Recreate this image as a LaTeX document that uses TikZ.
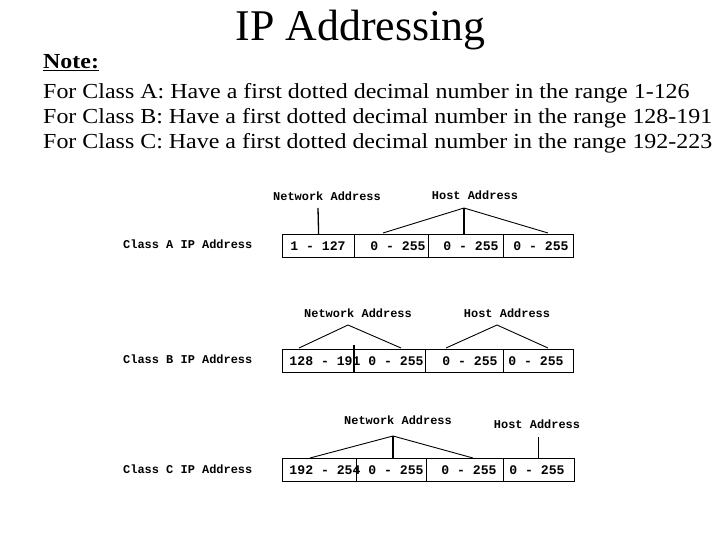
\documentclass[tikz,border=0pt]{standalone}
\usepackage{fontspec}
\setmainfont{Liberation Serif}
\newfontfamily\pixfont{Liberation Mono}
\newcommand{\stretchtxt}[1]{\scalebox{1.118}[1]{#1}}
\begin{document}
\begin{tikzpicture}[x=1bp,y=-1bp,
  lbl/.style={font=\pixfont\bfseries\fontsize{12}{12}\selectfont, inner sep=0pt},
  num/.style={font=\pixfont\bfseries\fontsize{13.2}{13.2}\selectfont, inner sep=0pt},
  cell/.style={draw, line width=1.2bp, inner sep=0pt, anchor=north west, minimum height=23bp},
  conn/.style={line width=0.9bp},
  divider/.style={line width=1.6bp},
  note/.style={font=\fontsize{21.5}{21.5}\selectfont, anchor=base west, inner sep=0pt}]
\useasboundingbox (0,0) rectangle (720,540);
\fill[white] (0,0) rectangle (720,540);

% header
\node[font=\fontsize{44}{44}\selectfont, anchor=base, inner sep=0pt] (title) at (360.5,41) {IP Addressing};
\node[note, font=\bfseries\fontsize{21.5}{21.5}\selectfont] (note) at (43,69) {\stretchtxt{\underline{Note:}}};
\node[note] (lA) at (43,99) {\stretchtxt{For Class A: Have a first dotted decimal number in the range 1-126}};
\node[note] (lB) at (43,124) {\stretchtxt{For Class B: Have a first dotted decimal number in the range 128-191}};
\node[note] (lC) at (43,149) {\stretchtxt{For Class C: Have a first dotted decimal number in the range 192-223}};

% ---------- Class A ----------
\node[lbl, anchor=west] (rowA) at (123,244) {Class A IP Address};
\node[num] (tA1) at (318,246) {1 - 127};
\node[num] (tA2) at (398,246) {0 - 255};
\node[num] (tA3) at (471,246) {0 - 255};
\node[num] (tA4) at (541,246) {0 - 255};
\node[cell, minimum width=72bp] (a1) at (282,234) {};
\node[cell, minimum width=74bp] (a2) at (354,234) {};
\node[cell, minimum width=75bp] (a3) at (428,234) {};
\node[cell, minimum width=70bp] (a4) at (503,234) {};
\node[lbl] (netA) at (327,196) {Network Address};
\node[lbl] (hostA) at (475,195) {Host Address};
\coordinate (netAtop) at (318,208);
\coordinate (hA) at (464,208);
\coordinate (hAl) at (383,233);
\coordinate (hAr) at (548,233);
\coordinate (hAm) at (464,234);
\draw[conn, line width=1.3bp] (netAtop) -- (a1.north);
\draw[conn] (hAl) -- (hA) -- (hAr);
\draw[conn, line width=1.3bp] (hA) -- (hAm);

% ---------- Class B ----------
\node[lbl, anchor=west] (rowB) at (123,359) {Class B IP Address};
\node[num] (tB1) at (325,361) {128 - 191};
\node[num] (tB2) at (396,361) {0 - 255};
\node[num] (tB3) at (470,361) {0 - 255};
\node[num] (tB4) at (536,361) {0 - 255};
\node[cell, minimum width=72bp] (b1) at (282,349) {};
\node[cell, minimum width=71bp] (b2) at (354,349) {};
\node[cell, minimum width=78bp] (b3) at (425,349) {};
\node[cell, minimum width=70bp] (b4) at (503,349) {};
\coordinate (bdt) at (354,345);
\coordinate (bdb) at (354,372);
\draw[divider] (bdt) -- (bdb);
\node[lbl] (netB) at (358,313) {Network Address};
\node[lbl] (hostB) at (507,313) {Host Address};
\coordinate (nB) at (348,325);
\coordinate (nBl) at (299,348);
\coordinate (nBr) at (401,348);
\coordinate (hB) at (497,325);
\coordinate (hBl) at (446,348);
\coordinate (hBr) at (548,348);
\draw[conn] (nBl) -- (nB) -- (nBr);
\draw[conn] (hBl) -- (hB) -- (hBr);

% ---------- Class C ----------
\node[lbl, anchor=west] (rowC) at (123,469) {Class C IP Address};
\node[num] (tC1) at (325,470) {192 - 254};
\node[num] (tC2) at (396,470) {0 - 255};
\node[num] (tC3) at (469,470) {0 - 255};
\node[num] (tC4) at (537,470) {0 - 255};
\node[cell, minimum width=74bp] (c1) at (282,458) {};
\node[cell, minimum width=70bp] (c2) at (356,458) {};
\node[cell, minimum width=77bp] (c3) at (426,458) {};
\node[cell, minimum width=71bp] (c4) at (503,458) {};
\node[lbl] (netC) at (398,420) {Network Address};
\node[lbl] (hostC) at (537,424) {Host Address};
\coordinate (nC) at (393,436);
\coordinate (nCl) at (310,458);
\coordinate (nCr) at (473,458);
\coordinate (nCm) at (393,458);
\coordinate (hCt) at (538,437);
\coordinate (hCm) at (538,458);
\draw[conn] (nCl) -- (nC) -- (nCr);
\draw[conn, line width=1.3bp] (nC) -- (nCm);
\draw[conn] (hCt) -- (hCm);
\end{tikzpicture}
\end{document}
